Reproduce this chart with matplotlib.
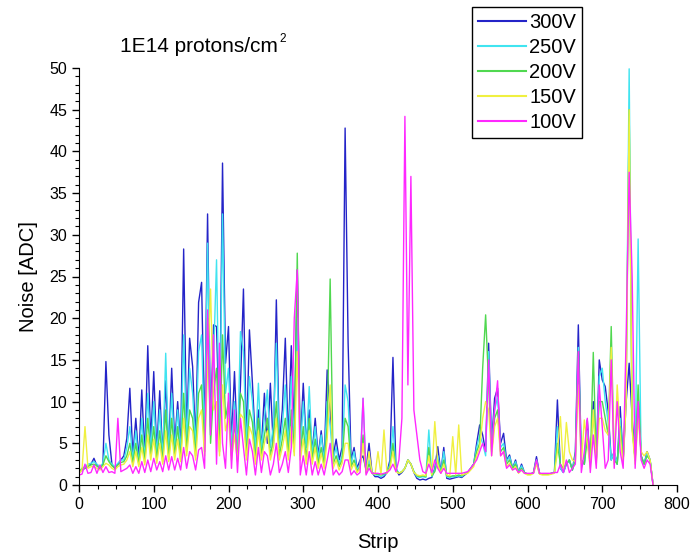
import numpy as np
import matplotlib
matplotlib.use("Agg")
import matplotlib.pyplot as plt
from matplotlib.ticker import MultipleLocator

plt.rcParams['font.family'] = ['Liberation Sans', 'DejaVu Sans']

# noise per strip, read every 4th strip (0, 4, ..., 768)
STRIP_STEP = 4

noise_300v = [
    1.5, 1.8, 2.0, 2.2, 2.5, 3.2, 2.3, 2.0, 2.4, 14.8,      # 0
    6.0, 2.5, 2.0, 2.5, 3.0, 3.5, 5.6, 11.6, 3.5, 8.0,      # 40
    3.0, 11.4, 3.5, 16.7, 5.0, 13.6, 4.0, 11.3, 3.5, 12.5,  # 80
    4.0, 14.0, 5.0, 10.0, 4.5, 28.3, 6.0, 17.6, 14.2, 5.0,  # 120
    21.9, 24.3, 6.0, 32.5, 7.0, 19.2, 19.0, 6.0, 38.6, 14.6,  # 160
    19.0, 5.0, 13.6, 4.5, 12.0, 23.5, 5.0, 18.6, 12.2, 5.0,  # 200
    9.0, 4.5, 11.0, 5.0, 12.2, 4.5, 22.2, 5.0, 9.0, 17.6,   # 240
    5.0, 16.7, 6.0, 25.8, 4.5, 12.2, 5.0, 9.0, 4.0, 8.0,    # 280
    3.5, 6.5, 3.0, 13.8, 9.0, 3.5, 5.5, 3.0, 4.5, 42.8,     # 320
    17.1, 3.0, 4.5, 2.0, 3.0, 3.5, 1.8, 5.0, 1.5, 1.0,      # 360
    1.0, 0.8, 1.0, 1.5, 3.0, 15.3, 2.0, 1.2, 1.5, 2.0,      # 400
    3.0, 2.5, 1.5, 0.8, 0.6, 0.7, 0.6, 0.8, 0.9, 2.0,       # 440
    4.6, 1.5, 4.5, 0.8, 0.7, 0.8, 0.9, 1.0, 0.9, 1.2,       # 480
    1.5, 2.0, 2.5, 5.0, 7.2, 6.0, 4.0, 17.0, 5.0, 10.4,     # 520
    11.6, 5.0, 6.2, 3.0, 3.6, 2.0, 3.0, 1.5, 2.5, 1.5,      # 560
    1.3, 1.3, 1.5, 3.4, 1.4, 1.3, 1.3, 1.3, 1.4, 1.5,       # 600
    10.2, 2.0, 1.5, 2.5, 3.0, 1.8, 4.0, 19.2, 3.0, 2.5,     # 640
    7.8, 2.5, 10.0, 3.0, 15.0, 12.6, 11.8, 8.8, 3.0, 4.0,   # 680
    2.5, 9.4, 3.0, 10.0, 14.6, 8.0, 3.0, 10.6, 3.5, 2.5,    # 720
    4.0, 3.0, 0.0,                                           # 760
]

noise_250v = [
    1.5, 2.0, 2.2, 2.5, 2.6, 2.8, 2.5, 2.2, 2.6, 5.0,
    3.0, 2.5, 2.2, 2.6, 3.0, 3.0, 4.5, 7.0, 3.0, 6.5,
    2.5, 8.0, 3.0, 11.0, 4.0, 10.0, 3.5, 9.0, 3.0, 15.8,
    3.5, 11.0, 4.0, 9.0, 3.5, 18.0, 5.0, 14.0, 11.0, 4.5,
    16.0, 18.0, 5.0, 29.0, 6.0, 15.0, 27.0, 5.0, 32.5, 11.0,
    14.0, 4.5, 10.0, 4.0, 18.4, 16.0, 4.5, 13.0, 10.0, 4.0,
    12.2, 4.0, 8.0, 11.4, 4.5, 7.0, 17.0, 4.5, 7.0, 12.0,
    4.5, 13.0, 5.0, 20.0, 4.0, 10.0, 4.5, 11.8, 3.5, 7.0,
    3.0, 6.0, 2.8, 10.0, 7.0, 3.0, 4.5, 2.5, 3.5, 12.0,
    10.0, 2.5, 4.0, 1.8, 2.5, 10.4, 1.6, 3.0, 1.5, 1.2,
    1.2, 1.0, 1.2, 1.5, 2.5, 7.0, 2.0, 1.4, 1.6, 2.0,
    3.0, 2.5, 1.6, 1.0, 0.9, 1.0, 0.9, 6.6, 1.0, 1.8,
    3.5, 1.5, 4.0, 1.0, 0.9, 1.0, 1.0, 1.1, 1.0, 1.3,
    1.5, 2.0, 2.5, 4.5, 6.0, 5.0, 3.5, 16.0, 4.5, 9.0,
    10.5, 4.5, 5.0, 2.8, 3.4, 2.0, 2.8, 1.5, 2.3, 1.5,
    1.3, 1.3, 1.5, 3.0, 1.4, 1.3, 1.3, 1.3, 1.4, 1.5,
    7.0, 2.0, 1.5, 2.5, 3.0, 1.8, 3.5, 16.5, 3.0, 2.5,
    6.5, 2.5, 9.0, 3.0, 13.0, 14.0, 10.0, 7.5, 3.0, 4.0,
    2.5, 8.0, 3.0, 12.0, 49.9, 7.0, 3.0, 29.5, 3.5, 2.5,
    3.8, 3.0, 0.0,
]

noise_200v = [
    1.5, 2.0, 2.0, 2.3, 2.4, 2.5, 2.3, 2.0, 2.4, 3.5,
    2.8, 2.3, 2.0, 2.4, 2.7, 2.8, 3.5, 5.0, 2.6, 5.0,
    2.5, 6.0, 2.8, 8.0, 3.5, 7.0, 3.0, 6.5, 2.8, 9.0,
    3.0, 8.0, 3.5, 7.0, 3.0, 11.0, 4.0, 9.0, 8.0, 3.5,
    11.0, 12.0, 4.0, 20.0, 5.0, 11.0, 14.0, 4.0, 18.0, 8.0,
    10.0, 3.5, 7.5, 3.0, 11.0, 10.0, 3.5, 9.0, 7.5, 3.0,
    8.0, 3.5, 6.0, 8.0, 3.5, 5.5, 10.0, 3.5, 5.5, 8.0,
    3.5, 9.0, 4.0, 27.8, 3.5, 7.0, 3.0, 8.0, 3.0, 5.5,
    2.5, 4.5, 2.4, 7.0, 24.7, 2.5, 3.5, 2.2, 3.0, 8.0,
    7.0, 2.2, 3.0, 1.6, 2.2, 6.0, 1.5, 2.5, 1.5, 1.3,
    1.3, 1.2, 1.3, 1.5, 2.2, 5.0, 1.8, 1.4, 1.6, 2.0,
    3.0, 2.5, 1.6, 1.1, 1.0, 1.1, 1.0, 4.5, 1.1, 1.6,
    3.0, 1.5, 3.0, 1.1, 1.0, 1.1, 1.1, 1.2, 1.1, 1.3,
    1.5, 2.0, 2.5, 4.0, 5.0, 14.0, 20.4, 12.0, 4.0, 8.0,
    9.0, 4.0, 4.5, 2.5, 3.0, 2.0, 2.5, 1.5, 2.0, 1.5,
    1.3, 1.3, 1.5, 2.8, 1.4, 1.3, 1.3, 1.3, 1.4, 1.5,
    5.0, 2.5, 2.0, 2.5, 3.0, 1.8, 3.0, 16.0, 3.0, 2.5,
    5.5, 2.5, 15.9, 3.0, 10.0, 10.0, 8.0, 6.0, 19.0, 3.0,
    2.5, 7.0, 3.0, 12.0, 45.0, 7.0, 3.0, 12.0, 3.5, 2.5,
    3.5, 3.0, 0.0,
]

noise_150v = [
    1.4, 1.8, 7.0, 2.0, 2.2, 2.2, 2.0, 1.8, 2.2, 2.6,
    2.4, 2.0, 1.8, 2.2, 2.4, 2.5, 3.0, 4.0, 2.2, 4.0,
    2.2, 4.5, 2.4, 6.0, 3.0, 5.5, 2.6, 5.0, 2.5, 6.5,
    2.8, 6.0, 3.0, 5.5, 2.8, 8.0, 3.5, 7.0, 6.5, 3.0,
    8.0, 9.0, 3.5, 14.0, 23.5, 9.0, 10.0, 3.5, 12.0, 6.5,
    8.0, 3.0, 6.0, 2.8, 8.5, 8.0, 3.0, 7.0, 6.0, 2.5,
    6.5, 3.0, 5.0, 6.5, 3.0, 4.5, 8.0, 3.0, 4.5, 6.5,
    3.0, 7.0, 3.5, 16.0, 3.0, 5.5, 2.5, 6.5, 2.5, 4.5,
    2.0, 3.8, 2.0, 5.5, 12.0, 2.0, 3.0, 1.8, 2.6, 5.0,
    5.0, 1.8, 2.6, 1.5, 2.0, 5.0, 1.4, 4.0, 1.4, 1.3,
    4.0, 1.2, 6.6, 1.4, 2.0, 4.0, 1.6, 1.4, 1.6, 2.0,
    3.0, 2.5, 1.5, 1.2, 1.1, 1.2, 1.1, 3.5, 1.2, 7.6,
    2.5, 1.4, 2.5, 1.2, 1.1, 5.8, 1.2, 7.2, 1.2, 1.3,
    1.4, 1.8, 2.2, 3.5, 4.5, 8.0, 10.0, 9.0, 3.5, 7.0,
    8.0, 3.5, 4.0, 2.2, 2.6, 1.8, 2.2, 1.4, 1.8, 1.4,
    1.2, 1.2, 1.4, 2.5, 1.3, 1.2, 1.2, 1.2, 1.3, 1.4,
    4.0, 8.2, 2.0, 7.5, 4.0, 3.0, 2.8, 12.0, 2.5, 7.8,
    5.0, 2.0, 9.0, 2.5, 8.0, 8.0, 6.5, 6.0, 16.5, 2.5,
    12.0, 6.0, 2.5, 10.0, 45.0, 6.5, 2.5, 8.0, 4.0, 3.5,
    4.0, 3.0, 0.0,
]

noise_100v = [
    1.2, 1.3, 2.5, 1.4, 1.5, 2.4, 1.4, 2.4, 1.5, 2.2,
    1.5, 1.6, 1.4, 8.0, 1.6, 1.8, 2.0, 2.4, 1.4, 2.2,
    1.4, 2.8, 1.5, 3.0, 1.6, 3.2, 1.8, 2.8, 1.6, 3.5,
    1.8, 3.4, 1.8, 3.2, 1.8, 4.5, 2.0, 4.0, 3.5, 1.8,
    4.2, 4.5, 2.0, 21.0, 6.0, 18.0, 2.5, 17.0, 5.0, 2.0,
    11.0, 2.0, 9.0, 1.5, 8.0, 4.5, 1.2, 5.5, 4.0, 1.2,
    4.5, 1.5, 4.0, 3.5, 1.2, 2.5, 5.0, 1.5, 2.5, 4.0,
    1.5, 4.5, 20.0, 25.8, 1.2, 3.5, 1.2, 4.0, 1.2, 2.8,
    1.2, 2.5, 1.2, 3.0, 5.0, 1.2, 1.8, 1.2, 1.6, 3.0,
    3.0, 1.2, 1.7, 1.2, 1.5, 10.4, 1.2, 2.0, 1.4, 1.4,
    1.4, 1.3, 1.4, 1.5, 1.8, 2.5, 1.6, 3.0, 8.0, 44.2,
    12.0, 37.0, 9.0, 6.0, 3.0, 1.6, 1.4, 2.5, 1.5, 3.0,
    2.0, 1.4, 2.0, 1.4, 1.4, 1.4, 1.4, 1.4, 1.4, 1.5,
    1.6, 2.0, 2.5, 3.0, 4.0, 5.0, 4.0, 15.0, 3.5, 9.0,
    12.5, 3.5, 4.0, 2.0, 2.4, 1.8, 2.0, 1.5, 1.8, 1.4,
    1.4, 1.4, 1.4, 3.0, 1.4, 1.4, 1.4, 1.4, 1.4, 1.5,
    1.5, 2.5, 1.5, 3.0, 1.5, 2.0, 2.5, 16.0, 1.5, 4.0,
    8.0, 1.5, 6.0, 2.0, 12.0, 7.0, 2.0, 3.0, 15.0, 2.0,
    10.0, 4.0, 2.0, 18.0, 37.5, 25.0, 2.0, 10.0, 3.0, 2.0,
    3.0, 2.5, 0.0,
]

labels = ['300V', '250V', '200V', '150V', '100V']
colors = ['#2424c8', '#40e4f0', '#50d850', '#f0f040', '#ff28ff']


def main():
    series = [noise_300v, noise_250v, noise_200v, noise_150v, noise_100v]
    strips = np.arange(len(noise_300v)) * STRIP_STEP

    fig = plt.figure(figsize=(6.9, 5.57), dpi=100)
    ax = fig.add_axes([79 / 690, 1 - 485 / 557, 598 / 690, 417 / 557])

    # 300V drawn first, 100V ends up on top
    for vals, lab, col in zip(series, labels, colors):
        ax.plot(strips, vals, color=col, linewidth=1.0, label=lab)

    ax.set_xlim(0, 800)
    ax.set_ylim(0, 50)
    ax.xaxis.set_major_locator(MultipleLocator(100))
    ax.xaxis.set_minor_locator(MultipleLocator(25))
    ax.yaxis.set_major_locator(MultipleLocator(5))
    ax.yaxis.set_minor_locator(MultipleLocator(1))
    ax.tick_params(which='major', direction='out', length=5, width=1, labelsize=11.5)
    ax.tick_params(which='minor', direction='out', length=3, width=0.8)
    ax.spines['top'].set_visible(False)
    ax.spines['right'].set_visible(False)

    ax.set_xlabel('Strip', fontsize=14.5, labelpad=15)
    ax.set_ylabel('Noise [ADC]', fontsize=14.5, labelpad=8)

    # title text with a small raised "2" placed right after it
    title = fig.text(120 / 690, 1 - 46 / 557, '1E14 protons/cm', fontsize=15,
                     ha='left', va='center')
    renderer = fig.canvas.get_renderer()
    bb = title.get_window_extent(renderer).transformed(fig.transFigure.inverted())
    fig.text(bb.x1 + 0.002, bb.y1 + 0.006, '2', fontsize=8.5, ha='left', va='top')

    leg = fig.legend(loc='upper left', bbox_to_anchor=(472 / 690, 1 - 7 / 557),
                     borderaxespad=0, fontsize=14.5, handlelength=2.4,
                     handletextpad=0.15, labelspacing=0.3, borderpad=0.3,
                     fancybox=False, framealpha=1)
    leg.get_frame().set_edgecolor('black')
    leg.get_frame().set_linewidth(1.0)
    for line in leg.get_lines():
        line.set_linewidth(1.5)

    fig.savefig('out.png', dpi=100)


if __name__ == "__main__":
    main()
